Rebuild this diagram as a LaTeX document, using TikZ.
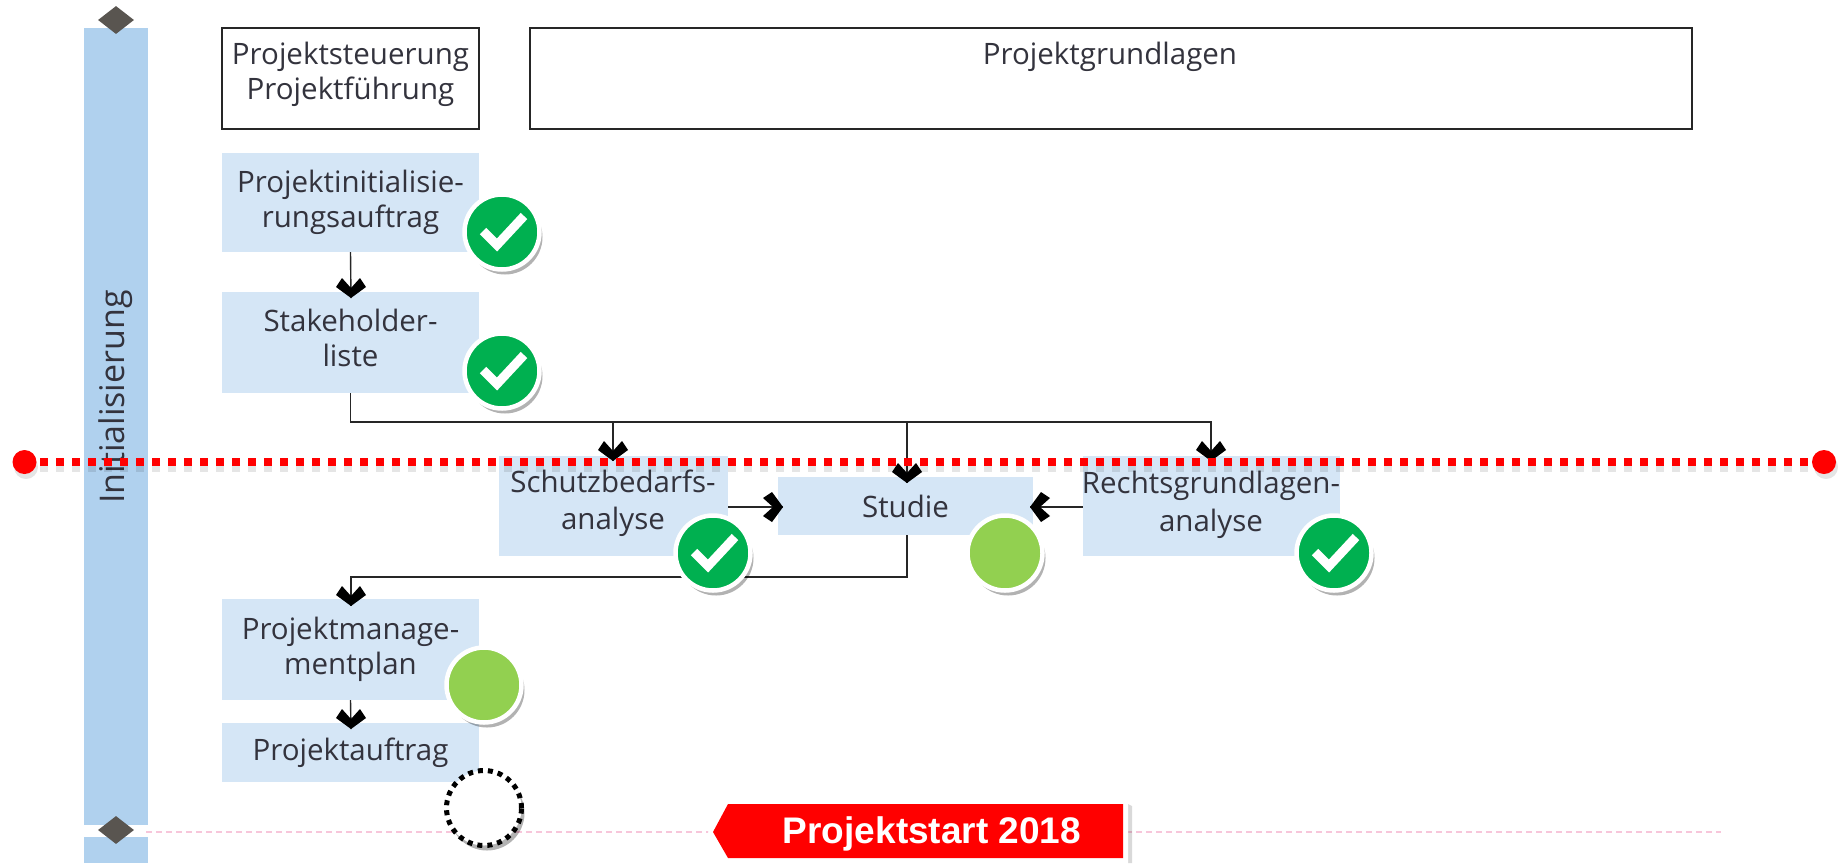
\documentclass[tikz,border=0pt]{standalone}
\usepackage{fontspec}
\setmainfont{Open Sans}
\newfontfamily\badgefont{Liberation Sans}
\usetikzlibrary{shadows,arrows.meta,shapes.geometric}
\definecolor{barblue}{HTML}{B0D1EE}
\definecolor{boxblue}{HTML}{D5E6F6}
\definecolor{okgreen}{HTML}{00B050}
\definecolor{lightgreen}{HTML}{92D050}
\definecolor{dia}{HTML}{595550}
\definecolor{pinkline}{HTML}{F7C6DA}
\definecolor{txt}{HTML}{33333D}
\tikzset{
  x=1pt,y=-1pt,
  lab/.style={text=txt,font=\fontsize{29.5}{35.5}\selectfont,align=center},
  headbox/.style={draw=black!85,line width=1.4pt,fill=white,minimum width=#1,minimum height=101pt,inner sep=0pt},
  bluebox/.style={fill=boxblue,inner sep=0pt,lab},
  conn/.style={draw=black!85,line width=1.4pt},
  chev/.style={fill=black,draw=none},
  shad/.style={drop shadow={shadow xshift=3pt,shadow yshift=-5pt,fill=black,opacity=.3}},
  disc/.style={circle,fill=#1,draw=white,line width=4.5pt,minimum size=75pt,inner sep=0pt,shad},
  diam/.style={diamond,fill=dia,minimum width=36pt,minimum height=28pt,inner sep=0pt},
  endpt/.style={circle,fill=red,minimum size=24pt,inner sep=0pt},
}
% chevron with its tip at #1, pointing down when #2 is 0
\newcommand{\chevron}[2]{\fill[chev,shift={(#1)},rotate=#2] (0,0) -- (15,-11) -- (9,-20) -- (0,-10) -- (-9,-20) -- (-15,-11) -- cycle;}
\newcommand{\tick}[1]{\draw[white,line width=9pt,line join=miter] ([xshift=-19pt,yshift=1pt]#1.center) -- ([xshift=-5pt,yshift=-13pt]#1.center) -- ([xshift=22pt,yshift=16pt]#1.center);}
\begin{document}
\begin{tikzpicture}
\useasboundingbox (0,0) rectangle (1846,863);
% bar
\fill[barblue] (84,28) rectangle (148,825);
\fill[barblue] (84,837) rectangle (148,863);
\node[rotate=90,font=\fontsize{34}{40}\selectfont,text=txt] (init) at (116,397) {Initialisierung};
\node[diam] (d1) at (116,20) {};
\node[diam] (d2) at (116,830) {};
% pink dashed
\coordinate (pa) at (146,832);
\coordinate (pb) at (1721,832);
\draw[pinkline,line width=1.5pt,dash pattern=on 6pt off 4pt] (pa) -- (pb);
% head boxes
\node[headbox=257pt] (hs) at (350.5,78.5) {};
\node[lab] (hst) at (350.5,74.5) {Projektsteuerung\\Projektführung};
\node[headbox=1162pt] (hg) at (1111,78.5) {};
\node[lab] (hgt) at (1110,57) {Projektgrundlagen};
% boxes
\node[bluebox,minimum width=257pt,minimum height=99pt] (pi) at (350.5,202.5) {Projektinitialisie-\\rungsauftrag};
\node[bluebox,minimum width=257pt,minimum height=101pt] (sl) at (350.5,342.5) {};
\node[lab] (slt) at (350.5,338) {Stakeholder-\\liste};
\node[bluebox,minimum width=229pt,minimum height=100pt] (sb) at (613.5,506) {};
\node[lab,font=\fontsize{29.5}{37.5}\selectfont] (sbt) at (613,503) {Schutzbedarfs-\\analyse};
\node[bluebox,minimum width=255pt,minimum height=58pt] (st) at (905.5,506) {Studie};
\node[bluebox,minimum width=257pt,minimum height=100pt] (rg) at (1211.5,506) {};
\node[lab,font=\fontsize{29.5}{38}\selectfont] (rgt) at (1211,505) {Rechtsgrundlagen-\\analyse};
\node[bluebox,minimum width=257pt,minimum height=101pt] (pm) at (350.5,649.5) {Projektmanage-\\mentplan};
\node[bluebox,minimum width=257pt,minimum height=59pt] (pa2) at (350.5,752.5) {Projektauftrag};
% connectors
\coordinate (jr) at (1211,422);
\coordinate (ts) at (613,461);
\coordinate (tm) at (907,483);
\coordinate (tr) at (1211,461);
\coordinate (jm) at (907,422);
\coordinate (js) at (613,422);
\coordinate (tsl) at (351,298);
\coordinate (tpm) at (351,606);
\coordinate (tpa) at (351,729);
\coordinate (tl) at (783,507);
\coordinate (trr) at (1030,507);
\coordinate (bs) at (351,577);
\draw[conn] (pi.south) -- (tsl);
\draw[conn] (sl.south) |- (jr) -- (tr);
\draw[conn] (js) -- (ts);
\draw[conn] (jm) -- (tm);
\draw[conn] (tm |- st.south) |- (bs) -- (tpm);
\draw[conn] (pm.south) -- (tpa);
\draw[conn] (sb.east |- tl) -- (tl);
\draw[conn] (rg.west |- trr) -- (trr);
\chevron{tsl}{0}
\chevron{ts}{0}
\chevron{tm}{0}
\chevron{tr}{0}
\chevron{tpm}{0}
\chevron{tpa}{0}
\chevron{tl}{90}
\chevron{trr}{-90}
% red dotted
\coordinate (la) at (40,462);
\coordinate (lb) at (1808,462);
\fill[black,opacity=.1] (26,467) circle (12pt);
\fill[black,opacity=.1] (1826,467) circle (12pt);
\draw[black,opacity=.1,line width=9pt,dash pattern=on 8pt off 8pt] ([yshift=-5pt]la) -- ([yshift=-5pt]lb);
\draw[red,line width=8pt,dash pattern=on 8pt off 8pt] (la) -- (lb);
\node[endpt] (ra) at (24.5,462) {};
\node[endpt] (rb) at (1824,462) {};
% status discs
\node[disc=okgreen] (c1) at (502,232) {}; \tick{c1}
\node[disc=okgreen] (c2) at (502,371) {}; \tick{c2}
\node[disc=okgreen] (c3) at (713,553) {}; \tick{c3}
\node[disc=lightgreen] (c4) at (1005,553) {};
\node[disc=okgreen] (c5) at (1334,553) {}; \tick{c5}
\node[disc=lightgreen] (c6) at (484,685) {};
\node[circle,fill=white,draw=black,line width=5pt,dash pattern=on 5pt off 5pt,minimum size=75pt,inner sep=0pt,shad] (c7) at (484,808) {};
% badge
\fill[black,opacity=.15] (1128,804) -- (1132,806) -- (1132,863) -- (1128,863) -- cycle;
\fill[white] (708,832) -- (724,799) -- (1128,799) -- (1128,863) -- (722,863) -- cycle;
\fill[red] (713,832) -- (728,804) -- (1123,804) -- (1123,858) -- (728,858) -- cycle;
\node[text=white,inner sep=0pt,font=\badgefont\bfseries\fontsize{37}{44}\selectfont] (bt) at (932,834) {Projektstart 2018};
\end{tikzpicture}
\end{document}
